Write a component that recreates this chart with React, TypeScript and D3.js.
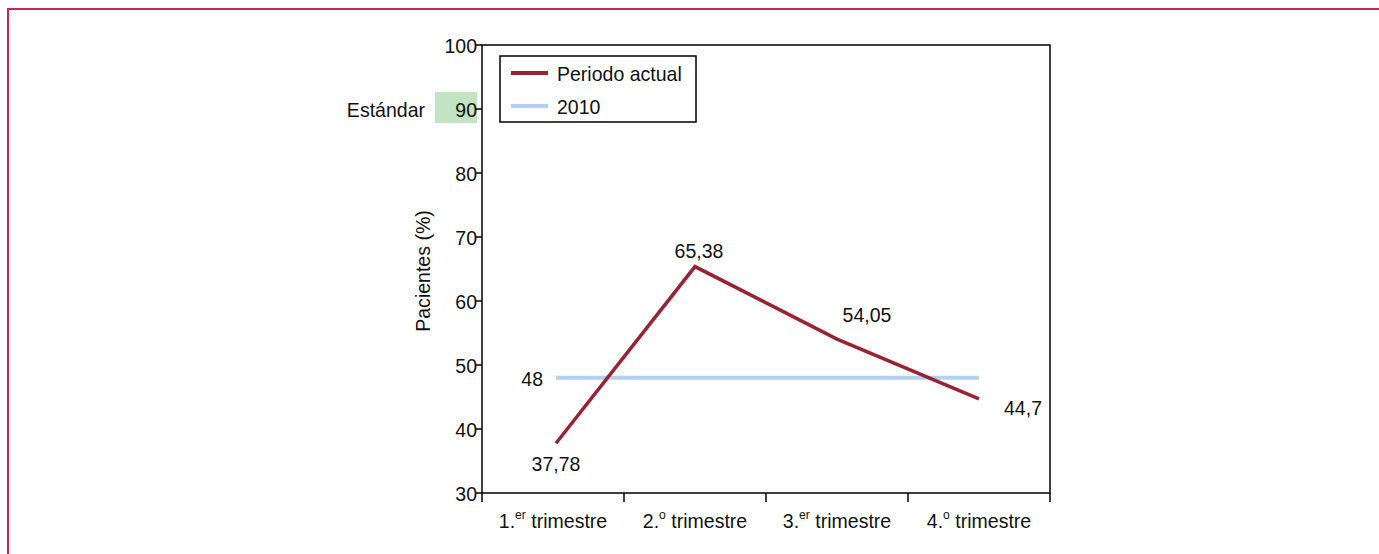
import React from "react";
import * as d3 from "d3";

const categories = ["1", "2", "3", "4"];
const categoryMain = ["1.", "2.", "3.", "4."];
const categorySup = ["er", "o", "er", "o"];
const categoryRest = [" trimestre", " trimestre", " trimestre", " trimestre"];
const periodoActual = [37.78, 65.38, 54.05, 44.7];
const periodoLabels = ["37,78", "65,38", "54,05", "44,7"];
const ref2010 = 48;
const yTicks = [30, 40, 50, 60, 70, 80, 90, 100];
const standardValue = 90;
const legendLabels = ["Periodo actual", "2010"];

const FONT = "'Liberation Sans', Arial, sans-serif";
const RED = "#9a2235";
const BLUE = "#b3d1ef";
const SX = 0.93;

function T(props: { x: number; y: number; anchor?: string; rotate?: number; children: React.ReactNode }) {
  const { x, y, anchor, rotate, children } = props;
  return (
    <text
      transform={`translate(${x},${y})${rotate ? ` rotate(${rotate})` : ""} scale(${SX},1)`}
      textAnchor={anchor || "start"}
    >
      {children}
    </text>
  );
}

export default function App() {
  const x = d3.scaleBand<string>().domain(categories).range([482, 1050]);
  const y = d3.scaleLinear().domain([30, 100]).range([493, 45]);
  const cx = (c: string) => (x(c) as number) + x.bandwidth() / 2;
  const pts: [number, number][] = categories.map((c, i) => [cx(c) + (i === 0 ? 3 : 0), y(periodoActual[i])]);
  const line = d3.line();
  const labelOffsets: [number, number, string][] = [
    [0, 28, "middle"],
    [4, -9, "middle"],
    [30, -17, "middle"],
    [25, 16, "start"],
  ];
  const x0 = 482, x1 = 1050, yTop = 45, yBot = 493;
  return (
    <svg
      width={1379}
      height={554}
      style={{ position: "absolute", left: 0, top: 0, background: "#fff" }}
      fontFamily={FONT}
      fontSize={21}
      fill="#111"
    >
      <rect x={0} y={0} width={1379} height={554} fill="#fff" />
      {/* page frame */}
      <line x1={8} y1={9} x2={1379} y2={9} stroke="#cc2458" strokeWidth={2} />
      <line x1={8} y1={8} x2={8} y2={554} stroke="#cc2458" strokeWidth={2} />

      {/* standard marker */}
      <rect x={435} y={y(standardValue) - 17} width={42} height={31} fill="#c3e4c3" />
      <T x={425} y={y(standardValue) + 8} anchor="end">Estándar</T>

      {/* plot frame */}
      <rect x={x0} y={yTop} width={x1 - x0} height={yBot - yTop} fill="none" stroke="#000" strokeWidth={1.5} />

      {/* y ticks */}
      {yTicks.map((t) => (
        <g key={t}>
          <line x1={x0 - 6} x2={x0} y1={y(t)} y2={y(t)} stroke="#000" strokeWidth={1.5} />
          <T x={x0 - 5} y={y(t) + 8} anchor="end">{t}</T>
        </g>
      ))}

      {/* x ticks */}
      {categories.map((c) => (x(c) as number)).concat([x1]).map((v, i) => (
        <line key={i} x1={v} x2={v} y1={yBot} y2={yBot + 9} stroke="#000" strokeWidth={1.5} />
      ))}
      {categories.map((c, i) => (
        <T key={c} x={cx(c)} y={yBot + 35} anchor="middle">
          {categoryMain[i]}
          <tspan fontSize={13} dy={-9}>{categorySup[i]}</tspan>
          <tspan dy={9}>{categoryRest[i]}</tspan>
        </T>
      ))}

      {/* y title */}
      <T x={430} y={(yTop + yBot) / 2 + 2} anchor="middle" rotate={-90}>
        Pacientes (%)
      </T>

      {/* 2010 reference */}
      <line x1={pts[0][0]} x2={cx(categories[3])} y1={y(ref2010)} y2={y(ref2010)} stroke={BLUE} strokeWidth={4} />
      <T x={pts[0][0] - 13} y={y(ref2010) + 8} anchor="end">{String(ref2010)}</T>

      {/* periodo actual */}
      <path d={line(pts) || ""} fill="none" stroke={RED} strokeWidth={3.5} />
      {pts.map((p, i) => (
        <T key={i} x={p[0] + labelOffsets[i][0]} y={p[1] + labelOffsets[i][1]} anchor={labelOffsets[i][2]}>
          {periodoLabels[i]}
        </T>
      ))}

      {/* legend */}
      <rect x={500} y={56} width={196} height={66} fill="#fff" stroke="#000" strokeWidth={1.5} />
      <line x1={511} x2={548} y1={73} y2={73} stroke={RED} strokeWidth={4} />
      <T x={557} y={81}>{legendLabels[0]}</T>
      <line x1={511} x2={548} y1={106} y2={106} stroke={BLUE} strokeWidth={4} />
      <T x={557} y={114}>{legendLabels[1]}</T>
    </svg>
  );
}
